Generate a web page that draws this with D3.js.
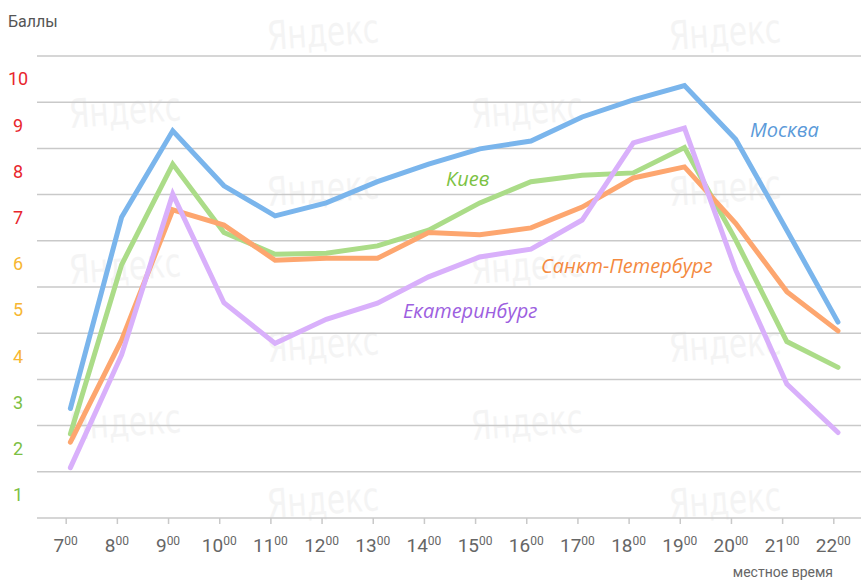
<!DOCTYPE html>
<html>
<head>
<meta charset="utf-8">
<script src="https://cdn.jsdelivr.net/npm/d3@7"></script>
<style>
  body { margin: 0; background: #fff; }
  svg { display: block; font-family: Roboto, "Liberation Sans", Arial, sans-serif; }
</style>
</head>
<body>
<svg width="861" height="580"></svg>
<script>
// hours of the day
const hours = [7, 8, 9, 10, 11, 12, 13, 14, 15, 16, 17, 18, 19, 20, 21, 22];

// traffic score per hour
const moscow = [2.37, 6.51, 8.38, 7.19, 6.54, 6.82, 7.28, 7.66, 7.99, 8.16, 8.68, 9.05, 9.36, 8.20, 6.23, 4.24];
const kiev = [1.82, 5.48, 7.66, 6.18, 5.71, 5.73, 5.89, 6.23, 6.82, 7.28, 7.42, 7.47, 8.02, 6.02, 3.82, 3.26];
const spb = [1.64, 3.85, 6.67, 6.34, 5.58, 5.62, 5.62, 6.18, 6.13, 6.28, 6.73, 7.36, 7.60, 6.38, 4.90, 4.05];
const ekb = [1.09, 3.53, 7.01, 4.66, 3.78, 4.30, 4.65, 5.22, 5.65, 5.82, 6.45, 8.12, 8.44, 5.37, 2.90, 1.85];

const scoreLabels = [1, 2, 3, 4, 5, 6, 7, 8, 9, 10];

const series = [
    { name: "Москва", values: moscow, color: "#7ab5ec", text: "#5b9ad9", lx: 750, ly: 137 },
    { name: "Киев", values: kiev, color: "#abdc88", text: "#7cc243", lx: 446, ly: 186 },
    { name: "Санкт-Петербург", values: spb, color: "#fda66f", text: "#f48a3f", lx: 541, ly: 273 },
    { name: "Екатеринбург", values: ekb, color: "#d9b0fb", text: "#9d5fe0", lx: 403, ly: 318 }
];

const svg = d3.select("svg");

const x = d3.scaleLinear().domain([7, 22]).range([65.7, 833.3]);
const y = d3.scaleLinear().domain([0, 10]).range([518, 56]);

// watermark, two per row
const marks = [];
for (let r = 0; r < 7; r++) {
    const off = r % 2 === 0 ? 268 : 70;
    marks.push([off, 50 + r * 78]);
    marks.push([off + 402, 50 + r * 78]);
}
svg.append("g")
    .selectAll("text")
    .data(marks)
    .enter()
    .append("text")
    .attr("transform", (d) => `translate(${d[0]},${d[1]}) rotate(-4)`)
    .attr("font-family", "'DejaVu Sans Condensed', sans-serif")
    .attr("font-size", 40)
    .attr("textLength", 112)
    .attr("lengthAdjust", "spacingAndGlyphs")
    .attr("fill", "#f4f4f4")
    .text("Яндекс");

// grid
svg.append("g")
    .selectAll("line")
    .data(d3.range(0, 11))
    .enter()
    .append("line")
    .attr("x1", 37)
    .attr("x2", 861)
    .attr("y1", (d) => y(d))
    .attr("y2", (d) => y(d))
    .attr("stroke", "#c9c9c9")
    .attr("stroke-width", 1.5);

// score labels
const scoreColor = (d) => (d >= 7 ? "#e8262d" : d >= 4 ? "#f7b733" : "#7cc043");
svg.append("g")
    .selectAll("text")
    .data(scoreLabels)
    .enter()
    .append("text")
    .attr("x", 18)
    .attr("y", (d) => y(d - 0.5))
    .attr("dy", "0.35em")
    .attr("text-anchor", "middle")
    .attr("font-size", 18)
    .attr("fill", scoreColor)
    .text((d) => d);

// x axis
const xAxis = svg.append("g")
    .attr("transform", `translate(0,${y(0)})`)
    .call(d3.axisBottom(x).tickValues(hours).tickSize(6).tickFormat(""));
xAxis.select(".domain").remove();
xAxis.selectAll(".tick line").attr("stroke", "#c9c9c9").attr("stroke-width", 1.5);

const tickText = svg.append("g")
    .selectAll("text")
    .data(hours)
    .enter()
    .append("text")
    .attr("x", (d) => x(d))
    .attr("y", 552)
    .attr("text-anchor", "middle")
    .attr("fill", "#666");
tickText.append("tspan").attr("font-size", 19).text((d) => d);
tickText.append("tspan").attr("font-size", 12).attr("dy", -7).text("00");

svg.append("text")
    .attr("x", 833)
    .attr("y", 577)
    .attr("text-anchor", "end")
    .attr("font-size", 14)
    .attr("fill", "#666")
    .text("местное время");

svg.append("text")
    .attr("x", 8)
    .attr("y", 27)
    .attr("font-size", 16)
    .attr("fill", "#555")
    .text("Баллы");

// lines
const line = d3.line()
    .x((d, i) => x(hours[i]) + 4.7)
    .y((d) => y(d));

svg.append("g")
    .selectAll("path")
    .data(series)
    .enter()
    .append("path")
    .attr("d", (d) => line(d.values))
    .attr("fill", "none")
    .attr("stroke", (d) => d.color)
    .attr("stroke-width", 5)
    .attr("stroke-linecap", "round")
    .attr("stroke-linejoin", "miter");

svg.append("g")
    .selectAll("text")
    .data(series)
    .enter()
    .append("text")
    .attr("x", (d) => d.lx)
    .attr("y", (d) => d.ly)
    .attr("font-family", "'Open Sans', sans-serif")
    .attr("font-style", "italic")
    .attr("font-size", 20)
    .attr("fill", (d) => d.text)
    .text((d) => d.name);
</script>
</body>
</html>
